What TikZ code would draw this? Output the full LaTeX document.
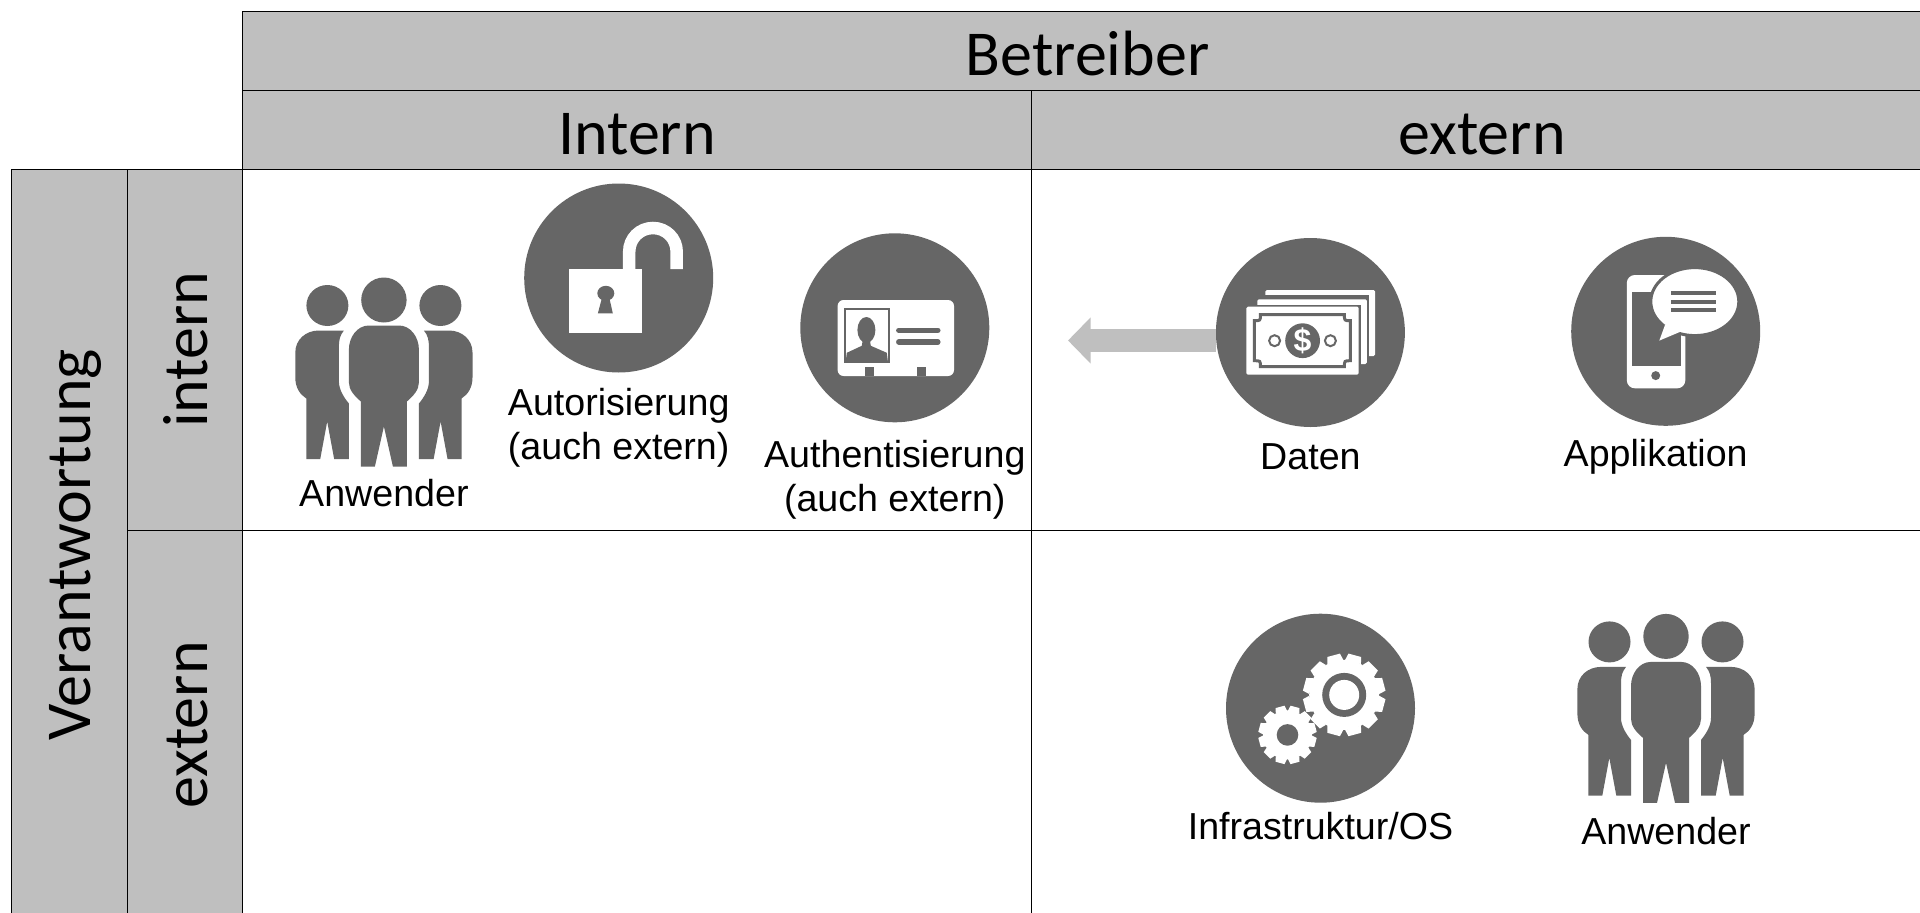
\documentclass[tikz,border=0pt]{standalone}
\usepackage{fontspec}
\setmainfont{Liberation Sans}
\newfontfamily\headfont{Carlito}
\usepackage{tikz}
\usetikzlibrary{positioning,arrows.meta}
\definecolor{headgrey}{HTML}{BFBFBF}
\definecolor{icongrey}{HTML}{666666}
\tikzset{
  % Specifications for style of nodes:
  base/.style = {
    rectangle,
    draw=black,
    line width=1pt,
    inner sep=0pt,
    outer sep=0pt,
    node distance=0pt,
    text centered
  },
  header/.style = {
    base,
    minimum height=79pt,
    text height=49.5pt,
    text depth=0pt,
    fill=headgrey,
    font=\headfont\fontsize{64}{75}\selectfont
  },
  side/.style = {
    base,
    fill=headgrey,
    font=\headfont\fontsize{64}{75}\selectfont
  },
  cell/.style = {
    base,
    fill=white
  },
  icon/.style = {
    circle,
    fill=icongrey,
    minimum size=189pt,
    inner sep=0pt,
    outer sep=0pt
  },
  caption/.style = {
    align=center,
    inner sep=0pt,
    node distance=16pt,
    font=\fontsize{37.6}{44}\selectfont
  },
  flow/.style = {
    draw=headgrey,
    line width=23pt,
    -{Triangle[length=22.7pt,width=45pt]}
  },
}
\def\sidetext#1#2{\rotatebox{90}{\raisebox{-#2pt}[0pt][0pt]{#1}}}
\def\person{
  \fill[icongrey] (-56.5,28) ellipse [x radius=21, y radius=20.5];
  \fill[icongrey] (-65,53) -- (-40,53) .. controls (-44,58) and (-45,62) .. (-45,70)
    -- (-45,104) .. controls (-45,112) and (-40,120) .. (-35,126)
    -- (-35,181.7) -- (-49.7,181.7) -- (-56.7,144) -- (-63.7,181.7) -- (-77.6,181.7)
    -- (-77.6,121) .. controls (-84,117) and (-88.6,110) .. (-88.6,100)
    -- (-88.6,75) .. controls (-88.6,62) and (-78,53) .. (-65,53) -- cycle;
}
\def\anwender#1{
  \begin{scope}[shift={(#1)}, shift={(0,-94.5)}]
    \person
    \begin{scope}[xscale=-1]
      \person
    \end{scope}
    \fill[icongrey] (0,22.5) ellipse [x radius=22.7, y radius=22.5];
    \fill[icongrey] (-15,48) -- (15,48) .. controls (27,48) and (35,60) .. (35,72)
      -- (35,105) .. controls (35,112) and (30,118) .. (23,124)
      -- (23,189) -- (9,189) -- (0,149) -- (-9,189) -- (-23,189)
      -- (-23,124) .. controls (-30,118) and (-35,112) .. (-35,105)
      -- (-35,72) .. controls (-35,60) and (-27,48) .. (-15,48) -- cycle;
  \end{scope}
}
\def\schloss#1{
  \begin{scope}[shift={(#1)}]
    \fill[white] (-49.7,-9) rectangle (23.4,55);
    \draw[white, line width=12.5pt] (10.5,-9) -- (10.5,-26.2)
      .. controls (10.5,-39.5) and (21,-50) .. (34.25,-50)
      .. controls (47.5,-50) and (58,-39.5) .. (58,-26.2) -- (58,-9);
    \fill[icongrey] (-12.9,15.3) ellipse [x radius=8.5, y radius=7.5];
    \fill[icongrey] (-16,17) -- (-10,17) -- (-5.9,35.3) -- (-20.8,35.3) -- cycle;
  \end{scope}
}
\def\ausweis#1{
  \begin{scope}[shift={(#1)}]
    \fill[white, rounded corners=6pt] (-57.2,-27.8) rectangle (59.2,48.2);
    \draw[icongrey, line width=2pt] (-49.8,-18.5) rectangle (-6,33.9);
    \fill[icongrey] (-28.4,2.2) ellipse [x radius=9, y radius=13];
    \fill[icongrey] (-32,12) -- (-25,12) -- (-24,18) -- (-8,25) -- (-7,33) -- (-49,33) -- (-48,25) -- (-33,18) -- cycle;
    \draw[icongrey, line width=5.5pt, line cap=round] (4,2.5) -- (43,2.5);
    \draw[icongrey, line width=5.5pt, line cap=round] (4,14.2) -- (43,14.2);
    \fill[icongrey] (-29.4,39.5) rectangle (-20.4,48.2);
    \fill[icongrey] (21.9,39.5) rectangle (30.8,48.2);
  \end{scope}
}
\def\geldscheine#1{
  \begin{scope}[shift={(#1)}]
    \fill[white, rounded corners=1.5pt] (-45.1,-42.5) rectangle (64.8,23.5);
    \fill[icongrey] (-48,-37.2) rectangle (58.8,30);
    \fill[white, rounded corners=1.5pt] (-53.1,-33.2) rectangle (56.4,31.5);
    \fill[icongrey] (-58,-28) rectangle (50.4,37);
    \fill[white, rounded corners=1.5pt] (-64,-25.8) rectangle (48.3,42.2);
    \draw[icongrey, line width=3pt, fill=white] (-50,-17.8) -- (34,-17.8)
      .. controls (34,-11.8) .. (40,-11.8) -- (40,28.2)
      .. controls (34,28.2) .. (34,34.2) -- (-50,34.2)
      .. controls (-50,28.2) .. (-56,28.2) -- (-56,-11.8)
      .. controls (-50,-11.8) .. (-50,-17.8) -- cycle;
    \fill[icongrey] (-7.8,8.2) circle [radius=17.4];
    \node[text=white, inner sep=0pt, font=\bfseries\fontsize{32}{32}\selectfont] (dollar) at (-7.8,8.2) {\$};
    \draw[icongrey, line width=2pt, fill=white] (-35.8,8.2) circle [radius=5.5];
    \draw[icongrey, line width=2pt, fill=white] (20,8.2) circle [radius=5.5];
  \end{scope}
}
\def\smartphone#1{
  \begin{scope}[shift={(#1)}]
    \fill[white, rounded corners=8pt] (-38.9,-56.3) rectangle (19.6,57);
    \fill[icongrey] (-34.1,-39.7) rectangle (15,34.3);
    \fill[icongrey] (-10,44.3) circle [radius=4.5];
    \draw[icongrey, line width=3pt, fill=white] (-0.7,-6.3) -- (-6.4,9.3) -- (15,0.3) -- cycle;
    \draw[icongrey, line width=3pt, fill=white] (29.1,-29.7) ellipse [x radius=44, y radius=34];
    \fill[white] (-0.7,-6.3) -- (-6.4,9.3) -- (15,0.3) -- (15,-10) -- cycle;
    \foreach \zeile in {-38,-29.7,-21.3} {
      \fill[icongrey] (5.4,\zeile-2) rectangle (50.3,\zeile+2);
    }
  \end{scope}
}
\def\zahnrad#1#2#3#4{
  \begin{scope}[shift={(#1)}]
    \foreach \winkel in {0,30,...,330} {
      \fill[white, rotate=\winkel+15] (#2-1,-0.2*#3) -- (#3,-0.16*#3) -- (#3,0.16*#3) -- (#2-1,0.2*#3) -- cycle;
    }
    \fill[white] (0,0) circle [radius=#2];
    \fill[icongrey] (0,0) circle [radius=#4];
  \end{scope}
}
\def\zahnraeder#1{
  \begin{scope}[shift={(#1)}]
    \zahnrad{23.7,-13.3}{35}{41}{22}
    \fill[white] (23.7,-13.3) circle [radius=15];
    \zahnrad{-33,26.7}{24.5}{29}{10.8}
  \end{scope}
}

\begin{document}
\begin{tikzpicture}[x=1pt, y=-1pt]
    \useasboundingbox (0,0) rectangle (1920,913);
    \clip (0,0) rectangle (1920,913);
    % Specification of nodes (position, etc.)
    \node[header, minimum width=1690pt] (betreiber) at (1087.5,51) {Betreiber};
    \node[header, minimum width=789pt, below right=0pt and 0pt of betreiber.south west] (intern) {Intern};
    \node[header, minimum width=901pt, below left=0pt and 0pt of betreiber.south east] (extern) {extern};
    \node[side, minimum width=115pt, minimum height=360.5pt, below left=0pt and 0pt of intern.south west] (internside) {\sidetext{intern}{22.5}};
    \node[side, minimum width=115pt, minimum height=390pt, below=of internside] (externside) {\sidetext{extern}{22.5}};
    \node[side, minimum width=116pt, minimum height=750.5pt, below left=0pt and 0pt of internside.north west] (verantwortung) {\sidetext{Verantwortung}{21}};
    \node[cell, minimum width=789pt, minimum height=360.5pt, below=of intern]  (cell0) {};
    \node[cell, minimum width=901pt, minimum height=360.5pt, below=of extern]  (cell1) {};
    \node[cell, minimum width=789pt, minimum height=390pt, below=of cell0]     (cell2) {};
    \node[cell, minimum width=901pt, minimum height=390pt, below=of cell1]     (cell3) {};
    % Specification of icons
    \coordinate (anwender0) at (383.9,372);
    \coordinate (anwender1) at (1666,708.4);
    \coordinate (flowtip) at (1068,340.5);
    \node[icon] (autorisierung)   at (618.7,278)    {};
    \node[icon] (authentisierung) at (894.8,327.8)  {};
    \node[icon] (daten)           at (1310.4,332.5) {};
    \node[icon] (applikation)     at (1665.7,331.3) {};
    \node[icon] (infrastruktur)   at (1320.5,708.2) {};
    \anwender{anwender0}
    \anwender{anwender1}
    \schloss{autorisierung}
    \ausweis{authentisierung}
    \geldscheine{daten}
    \smartphone{applikation}
    \zahnraeder{infrastruktur}
    \draw[flow] (daten.west |- flowtip) -- (flowtip);
    % Specification of captions
    \node[caption, below=107pt of anwender0]        (anwender0text)        {Anwender};
    \node[caption, below=of autorisierung]          (autorisierungtext)    {Autorisierung\\(auch extern)};
    \node[caption, below=18pt of authentisierung]   (authentisierungtext)  {Authentisierung\\(auch extern)};
    \node[caption, below=of daten]                  (datentext)            {Daten};
    \node[caption, below=13pt of applikation, xshift=-10pt] (applikationtext) {Applikation};
    \node[caption, below=9pt of infrastruktur]      (infrastrukturtext)    {Infrastruktur/OS};
    \node[caption, below=109pt of anwender1]        (anwender1text)        {Anwender};
  \end{tikzpicture}
\end{document}
